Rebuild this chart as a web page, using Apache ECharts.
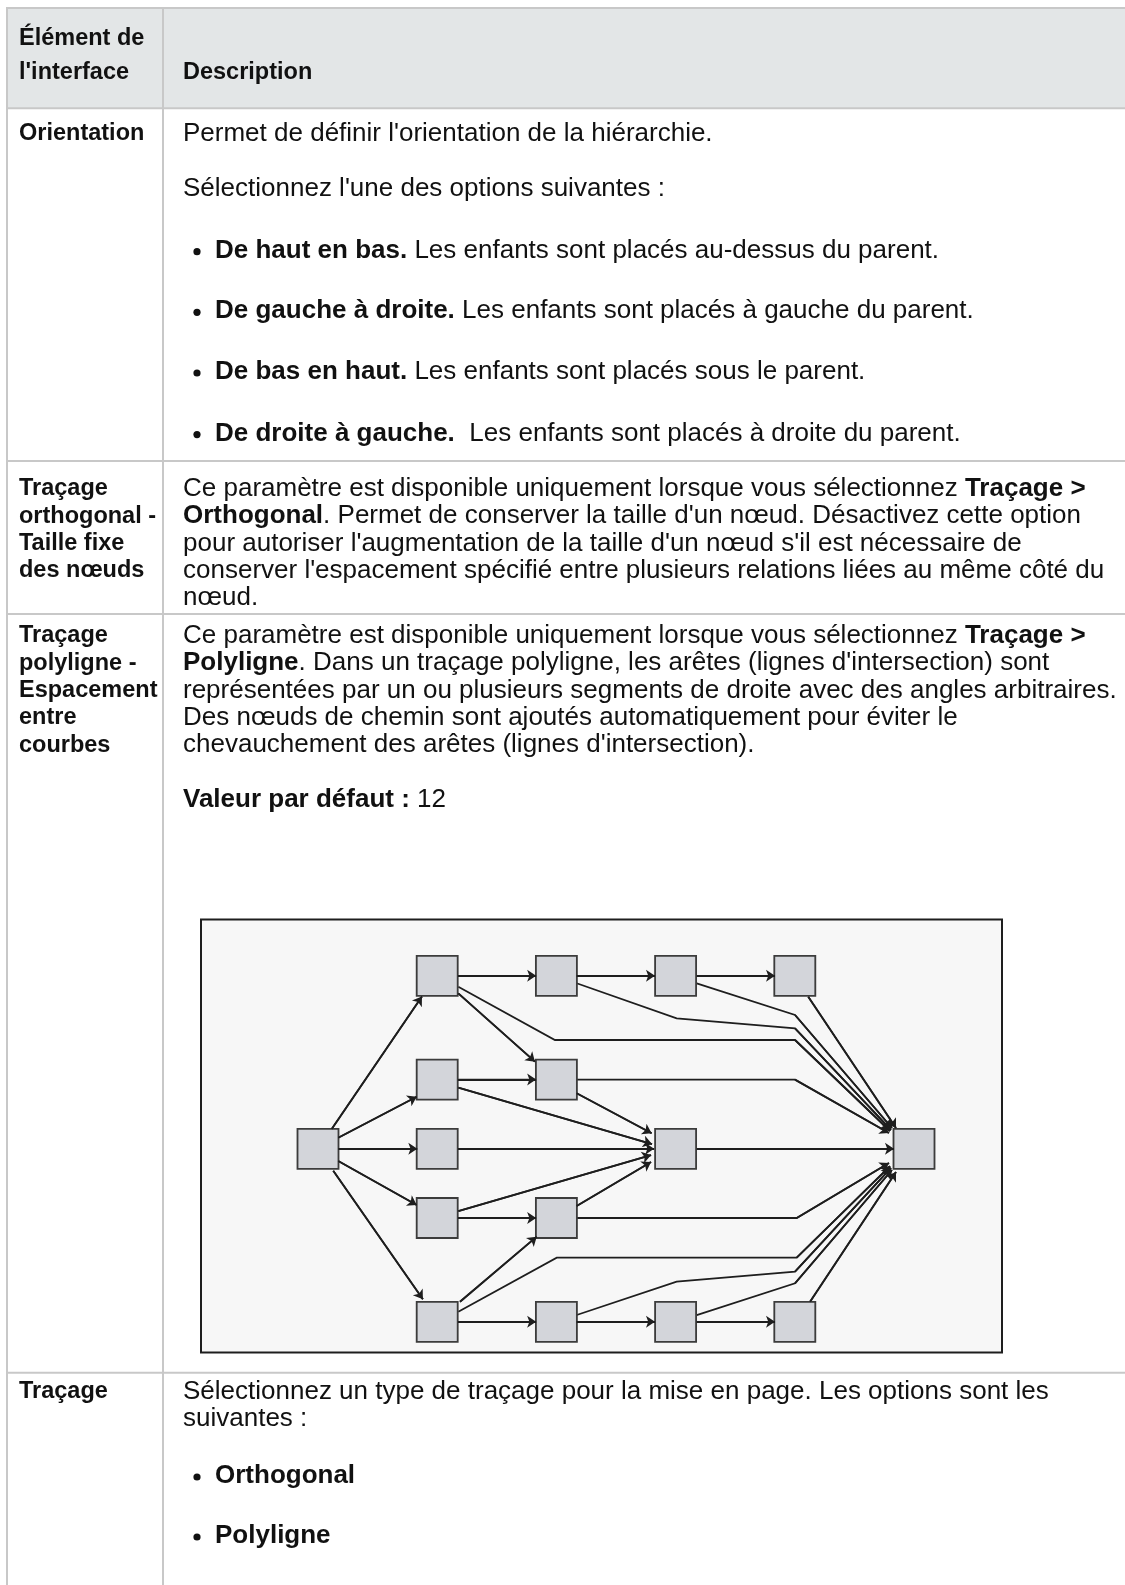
<!DOCTYPE html>
<html><head><meta charset="utf-8">
<script src="https://cdn.jsdelivr.net/npm/echarts@6/dist/echarts.min.js"></script>
<style>html,body{margin:0;padding:0;background:#fff}#c{width:1125px;height:1585px}</style>
</head><body><div id="c"></div>
<script>
// ---------- table text ----------
const headerLeft = ['Élément de', "l'interface"];
const headerRight = 'Description';
const labelOrientation = ['Orientation'];
const labelOrtho = ['Traçage', 'orthogonal -', 'Taille fixe', 'des nœuds'];
const labelPoly = ['Traçage', 'polyligne -', 'Espacement', 'entre', 'courbes'];
const labelTracage = ['Traçage'];

const orientIntro = ["Permet de définir l'orientation de la hiérarchie.", "Sélectionnez l'une des options suivantes :"];
const orientBullets = [
  ['De haut en bas.', ' Les enfants sont placés au-dessus du parent.'],
  ['De gauche à droite.', ' Les enfants sont placés à gauche du parent.'],
  ['De bas en haut.', ' Les enfants sont placés sous le parent.'],
  ['De droite à gauche.', '  Les enfants sont placés à droite du parent.']
];
const orthoLines = [
  'Ce paramètre est disponible uniquement lorsque vous sélectionnez {b|Traçage >}',
  "{b|Orthogonal}. Permet de conserver la taille d'un nœud. Désactivez cette option",
  "pour autoriser l'augmentation de la taille d'un nœud s'il est nécessaire de",
  "conserver l'espacement spécifié entre plusieurs relations liées au même côté du",
  'nœud.'
];
const polyLines = [
  'Ce paramètre est disponible uniquement lorsque vous sélectionnez {b|Traçage >}',
  "{b|Polyligne}. Dans un traçage polyligne, les arêtes (lignes d'intersection) sont",
  'représentées par un ou plusieurs segments de droite avec des angles arbitraires.',
  'Des nœuds de chemin sont ajoutés automatiquement pour éviter le',
  "chevauchement des arêtes (lignes d'intersection)."
];
const polyDefault = '{b|Valeur par défaut :} 12';
const tracageLines = ['Sélectionnez un type de traçage pour la mise en page. Les options sont les', 'suivantes :'];
const tracageBullets = ['Orthogonal', 'Polyligne'];

// ---------- diagram data (column / row units) ----------
const nodeNames = ['R','A1','A2','A3','A4','B1','B2','C1','C3','D1','D2','E1','E2','E3','E4','S'];
const nodeCol   = [0, 1, 2, 3, 4, 1, 2, 1, 3, 1, 2, 1, 2, 3, 4, 5];
const nodeRow   = [2.5, 0, 0, 0, 0, 1.5, 1.5, 2.5, 2.5, 3.5, 3.5, 5, 5, 5, 5, 2.5];

const edgePaths = [
  [[0.115,2.214],[0.872,0.299]],                       // R-A1
  [[0.170,2.340],[0.828,1.747]],                       // R-B1
  [[0.170,2.5],[0.833,2.5]],                           // R-C1
  [[0.170,2.676],[0.828,3.312]],                       // R-D1
  [[0.128,2.816],[0.880,4.675]],                       // R-E1
  [[1.175,0],[1.830,0]],                               // A1-A2
  [[1.177,0.253],[1.820,1.241]],                       // A1-B2
  [[1.177,0.158],[1.988,0.928],[4.002,0.928],[4.799,2.243]], // A1-S
  [[1.175,1.5],[1.830,1.5]],                           // B1-B2
  [[1.177,1.617],[2.802,2.431]],                       // B1-C3
  [[1.175,2.5],[2.820,2.5]],                           // C1-C3
  [[1.175,3.5],[1.830,3.5]],                           // D1-D2
  [[1.177,3.399],[2.794,2.590]],                       // D1-C3
  [[1.191,4.710],[1.835,3.770]],                       // E1-D2
  [[1.175,5],[1.830,5]],                               // E1-E2
  [[1.177,4.854],[2.003,4.074],[4.016,4.074],[4.799,2.749]], // E1-S
  [[2.170,0],[2.827,0]],                               // A2-A3
  [[2.170,0.108],[3.009,0.614],[4.002,0.759],[4.807,2.228]], // A2-S
  [[2.170,1.698],[2.799,2.276]],                       // B2-C3
  [[2.170,1.5],[4.002,1.5],[4.790,2.272]],             // B2-S
  [[2.170,3.327],[2.794,2.691]],                       // D2-C3
  [[2.170,3.5],[4.016,3.5],[4.790,2.705]],             // D2-S
  [[2.170,5],[2.827,5]],                               // E2-E3
  [[2.170,4.902],[3.009,4.420],[4.002,4.276],[4.807,2.777]], // E2-S
  [[3.177,0],[3.834,0]],                               // A3-A4
  [[3.177,0.108],[4.002,0.566],[4.815,2.199]],         // A3-S
  [[3.177,2.5],[4.832,2.5]],                           // C3-S
  [[3.177,5],[3.834,5]],                               // E3-E4
  [[3.177,4.902],[4.002,4.444],[4.815,2.806]],         // E3-S
  [[4.113,0.302],[4.849,2.199]],                       // A4-S
  [[4.128,4.710],[4.849,2.835]]                        // E4-S
];

// ---------- layout ----------
const FF = '"Liberation Sans", Arial, Helvetica, sans-serif';
const FS = 26;      // right column size
const FSL = 23.5;   // left column / header size
const BORDER = '#c8c8c8';
const COL_L = 19, COL_R = 183, BUL_X = 197, BUL_T = 215;

const els = [];
function hline(y) { els.push({type:'line', shape:{x1:7, y1:y, x2:1125, y2:y}, style:{stroke:BORDER, lineWidth:2}, z:2}); }
function txt(x, y, s, bold, size) {
  els.push({type:'text', x:x, y:y, z:10, style:{
    text:s, fill:'#111', fontFamily:FF, fontSize:size, fontWeight:bold?'bold':'normal',
    verticalAlign:'middle', align:'left',
    rich:{ b:{fontFamily:FF, fontSize:size, fontWeight:'bold', fill:'#111'} }
  }});
}
function bullet(y, boldPart, rest) {
  els.push({type:'circle', shape:{cx:BUL_X, cy:y+1, r:3.6}, style:{fill:'#111'}, z:10});
  txt(BUL_T, y, '{b|' + boldPart + '}' + (rest || ''), false, FS);
}

// header + grid lines
els.push({type:'rect', shape:{x:7, y:8, width:1118, height:100}, style:{fill:'#e3e6e7'}, z:1});
hline(8); hline(108.2); hline(461); hline(614); hline(1372.7);
els.push({type:'line', shape:{x1:7, y1:7, x2:7, y2:1585}, style:{stroke:BORDER, lineWidth:2}, z:2});
els.push({type:'line', shape:{x1:163, y1:7, x2:163, y2:1585}, style:{stroke:BORDER, lineWidth:2}, z:2});

txt(COL_L, 38.4, headerLeft[0], true, FSL);
txt(COL_L, 72.8, headerLeft[1], true, FSL);
txt(COL_R, 72.8, headerRight, true, FSL);

// row 1
txt(COL_L, 133.4, labelOrientation[0], true, FSL);
txt(COL_R, 133.4, orientIntro[0], false, FS);
txt(COL_R, 189, orientIntro[1], false, FS);
[250.7, 311.3, 372, 433.6].forEach((y, i) => bullet(y, orientBullets[i][0], orientBullets[i][1]));

// row 2
const r2 = [489, 516.3, 543.6, 570.9, 598.2];
labelOrtho.forEach((s, i) => txt(COL_L, r2[i], s, true, FSL));
orthoLines.forEach((s, i) => txt(COL_R, r2[i], s, false, FS));

// row 3
const r3 = [636, 663.3, 690.6, 717.9, 745.2];
labelPoly.forEach((s, i) => txt(COL_L, r3[i], s, true, FSL));
polyLines.forEach((s, i) => txt(COL_R, r3[i], s, false, FS));
txt(COL_R, 800, polyDefault, false, FS);

// diagram frame
els.push({type:'rect', shape:{x:201, y:919.5, width:801, height:433}, style:{fill:'#f7f7f7', stroke:'#1e1e1e', lineWidth:2}, z:0});

// row 4
txt(COL_L, 1392, labelTracage[0], true, FSL);
txt(COL_R, 1392, tracageLines[0], false, FS);
txt(COL_R, 1419.3, tracageLines[1], false, FS);
bullet(1476, tracageBullets[0]);
bullet(1536, tracageBullets[1]);

const chart = echarts.init(document.getElementById('c'), null, {renderer:'canvas'});
const edgeStyle = {color:'#1e1e1e', width:1.8, opacity:1, curveness:0};
chart.setOption({
  animation:false,
  backgroundColor:'#ffffff',
  graphic:{elements:els},
  grid:{left:198.8, top:906.6, width:834.4, height:484.4, containLabel:false},
  xAxis:{type:'value', min:-1, max:6, show:false},
  yAxis:{type:'value', min:-1, max:6, inverse:true, show:false},
  series:[
    {type:'lines', coordinateSystem:'cartesian2d', polyline:true, silent:true, z:3,
     lineStyle:edgeStyle, symbol:'none',
     data: edgePaths.map(p => ({coords:p}))},
    {type:'scatter', silent:true, z:5, symbol:'rect', symbolSize:[41,40],
     itemStyle:{color:'#d3d5da', borderColor:'#3c3c3c', borderWidth:1.8, opacity:1},
     data: nodeCol.map((c, i) => ({name:nodeNames[i], value:[c, nodeRow[i]]}))},
    {type:'lines', coordinateSystem:'cartesian2d', silent:true, z:6,
     lineStyle:edgeStyle, symbol:['none','arrow'], symbolSize:9,
     data: edgePaths.map(p => ({coords:p.slice(-2)}))}
  ]
});
</script></body></html>
